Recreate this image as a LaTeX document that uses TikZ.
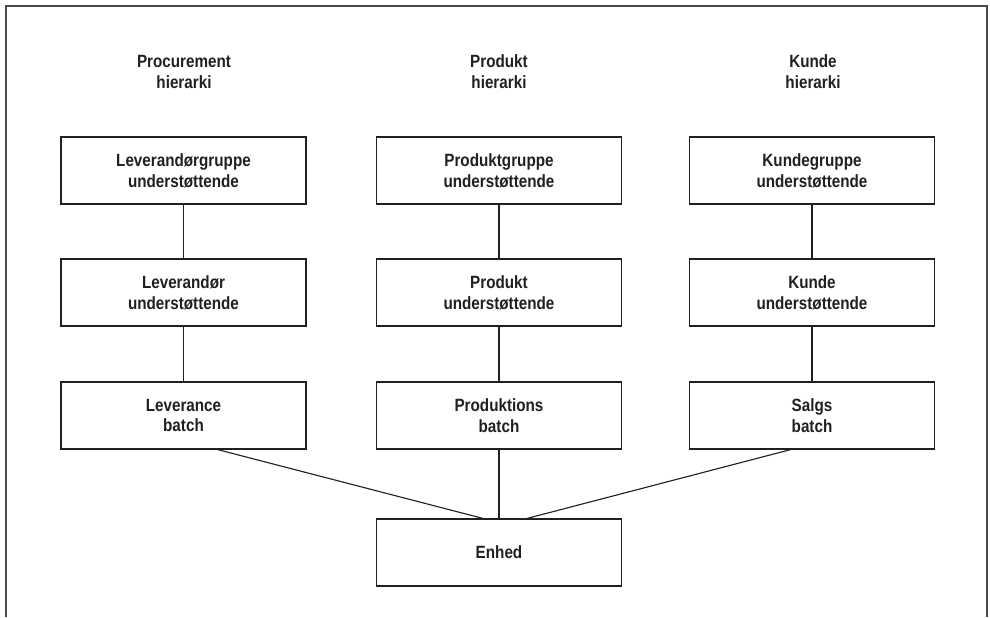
\documentclass[tikz,border=0pt]{standalone}
\usepackage{fontspec}
\setmainfont{Liberation Sans}[FakeStretch=0.86]
\usepackage{tikz}
\usepackage{xcolor}
\usetikzlibrary{positioning,calc}
\definecolor{ink}     {HTML}{231F20}
\definecolor{frame}   {HTML}{4A4A4A}
\tikzset{
  box/.style      ={draw=ink, fill=white, line width=0.8pt,
                    minimum width=6.125cm, minimum height=1.675cm,
                    align=center, font=\fontsize{12.6}{14.9}\selectfont\bfseries,
                    text=ink, inner sep=0pt},
  head/.style     ={align=center, font=\fontsize{12.6}{14.9}\selectfont\bfseries,
                    text=ink, inner sep=0pt},
  link/.style     ={draw=ink, line width=0.8pt},
  rim/.style      ={draw=frame, line width=1.2pt},
}

\begin{document}
\begin{tikzpicture}[x=0.025cm,y=-0.025cm]
  \useasboundingbox (0,0) rectangle (990,617);
  \draw[rim] (6,617) -- (6,6) -- (987,6) -- (987,617);

  \node[head] (hproc) at (184,72) {Procurement\\hierarki};
  \node[head] (hprod) at (499,72) {Produkt\\hierarki};
  \node[head] (hkun)  at (813,72) {Kunde\\hierarki};

  \node[box] (levgrp) at (183.5,170.5) {Leverandørgruppe\\understøttende};
  \node[box] (lev)    at (183.5,292.5) {Leverandør\\understøttende};
  \node[box] (levb)   at (183.5,415.5) {Leverance\\batch};

  \node[box] (prodgrp) at (499,170.5) {Produktgruppe\\understøttende};
  \node[box] (prod)    at (499,292.5) {Produkt\\understøttende};
  \node[box] (prodb)   at (499,415.5) {Produktions\\batch};

  \node[box] (kungrp) at (812,170.5) {Kundegruppe\\understøttende};
  \node[box] (kun)    at (812,292.5) {Kunde\\understøttende};
  \node[box] (salb)   at (812,415.5) {Salgs\\batch};

  \node[box] (enhed) at (499,552.5) {Enhed};

  \draw[link] (levgrp) -- (lev);
  \draw[link] (lev) -- (levb);
  \draw[link] (prodgrp) -- (prod);
  \draw[link] (prod) -- (prodb);
  \draw[link] (kungrp) -- (kun);
  \draw[link] (kun) -- (salb);

  \draw[link] (levb.-45) -- ($(enhed.north)+(-16,0)$);
  \draw[link] (prodb) -- (enhed);
  \draw[link] (salb.-122) -- ($(enhed.north)+(28,0)$);
\end{tikzpicture}
\end{document}
